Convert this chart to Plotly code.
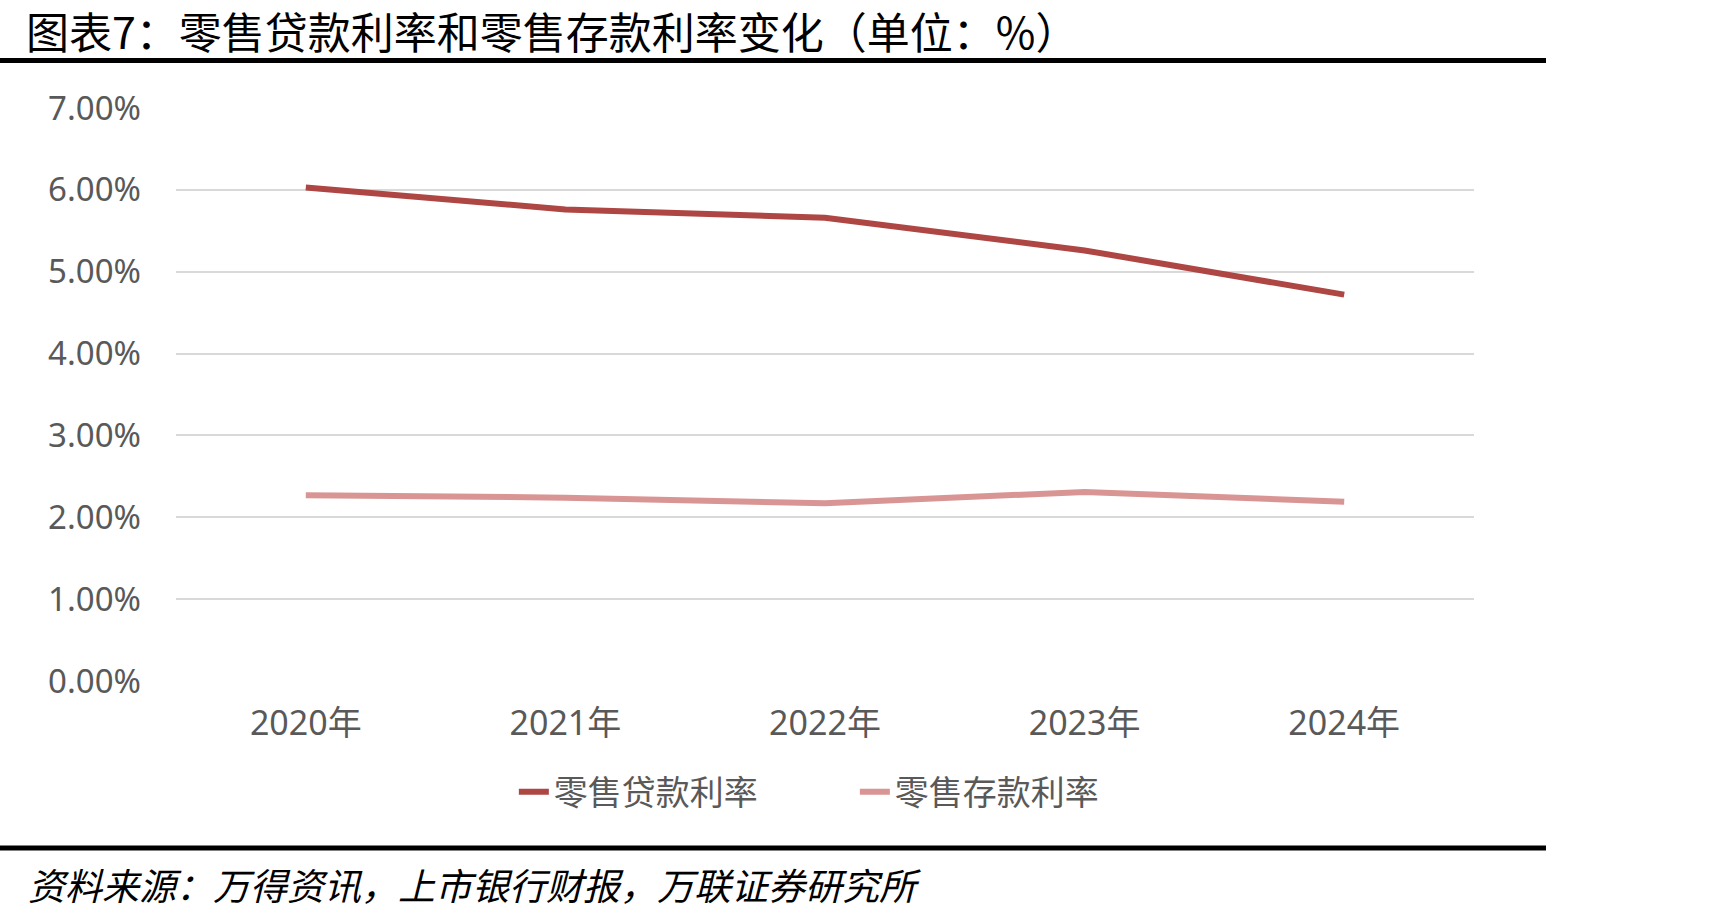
import plotly.graph_objects as go

years = ["2020年", "2021年", "2022年", "2023年", "2024年"]
loan_rate = [6.03, 5.76, 5.66, 5.26, 4.72]
deposit_rate = [2.27, 2.24, 2.17, 2.31, 2.19]
y_ticks = [0, 1, 2, 3, 4, 5, 6, 7]
y_tick_text = [f"{v:.2f}%" for v in y_ticks]

title_text = "图表7：零售贷款利率和零售存款利率变化（单位：%）"
source_text = "资料来源：万得资讯，上市银行财报，万联证券研究所"

W, H = 1725, 917
L, R, T, B = 176, 251, 108, 236

fig = go.Figure()
fig.add_trace(go.Scatter(x=years, y=loan_rate, mode="lines", name="零售贷款利率",
                         line=dict(color="#AE4644", width=6)))
fig.add_trace(go.Scatter(x=years, y=deposit_rate, mode="lines", name="零售存款利率",
                         line=dict(color="#D99594", width=6)))

y_tick_font = dict(family="Noto Sans, Noto Sans CJK SC", size=33, color="#595959")
x_tick_font = dict(family="Noto Sans, Noto Sans CJK SC", size=34, color="#595959")

fig.update_layout(
    width=W, height=H,
    margin=dict(l=L, r=R, t=T, b=B),
    paper_bgcolor="white", plot_bgcolor="white",
    showlegend=True,
    legend=dict(orientation="h", x=0.523, xanchor="center", y=-0.194, yanchor="middle",
                font=dict(family="Noto Sans CJK SC", size=34, color="#595959"),
                entrywidth=296, itemwidth=30, bgcolor="rgba(0,0,0,0)"),
    xaxis=dict(type="category", range=[-0.5, 4.5], showgrid=False, showline=False,
               zeroline=False, ticks="", tickfont=x_tick_font, ticklabelstandoff=19),
    yaxis=dict(range=[0, 7], tickvals=y_ticks, ticktext=y_tick_text, showgrid=True,
               gridcolor="#D9D9D9", gridwidth=2, zeroline=False, showline=False,
               ticks="", tickfont=y_tick_font, ticklabelstandoff=34),
)

def px_to_paper_y(py):
    return (H - B - py) / (H - T - B)

def px_to_paper_x(px):
    return (px - L) / (W - L - R)

# title and source
fig.add_annotation(text=title_text, xref="paper", yref="paper",
                   x=px_to_paper_x(24), y=px_to_paper_y(30),
                   xanchor="left", yanchor="middle", showarrow=False,
                   font=dict(family="Noto Sans CJK SC", size=43, color="#000000"))
fig.add_annotation(text="<i>" + source_text + "</i>", xref="paper", yref="paper",
                   x=px_to_paper_x(26), y=px_to_paper_y(884),
                   xanchor="left", yanchor="middle", showarrow=False,
                   font=dict(family="Noto Sans CJK SC", size=37, color="#000000"))

# black rules
for yy in (60.5, 848):
    fig.add_shape(type="line", xref="paper", yref="paper",
                  x0=px_to_paper_x(0), x1=px_to_paper_x(1546),
                  y0=px_to_paper_y(yy), y1=px_to_paper_y(yy),
                  line=dict(color="black", width=5))

fig.write_html("out.html")
